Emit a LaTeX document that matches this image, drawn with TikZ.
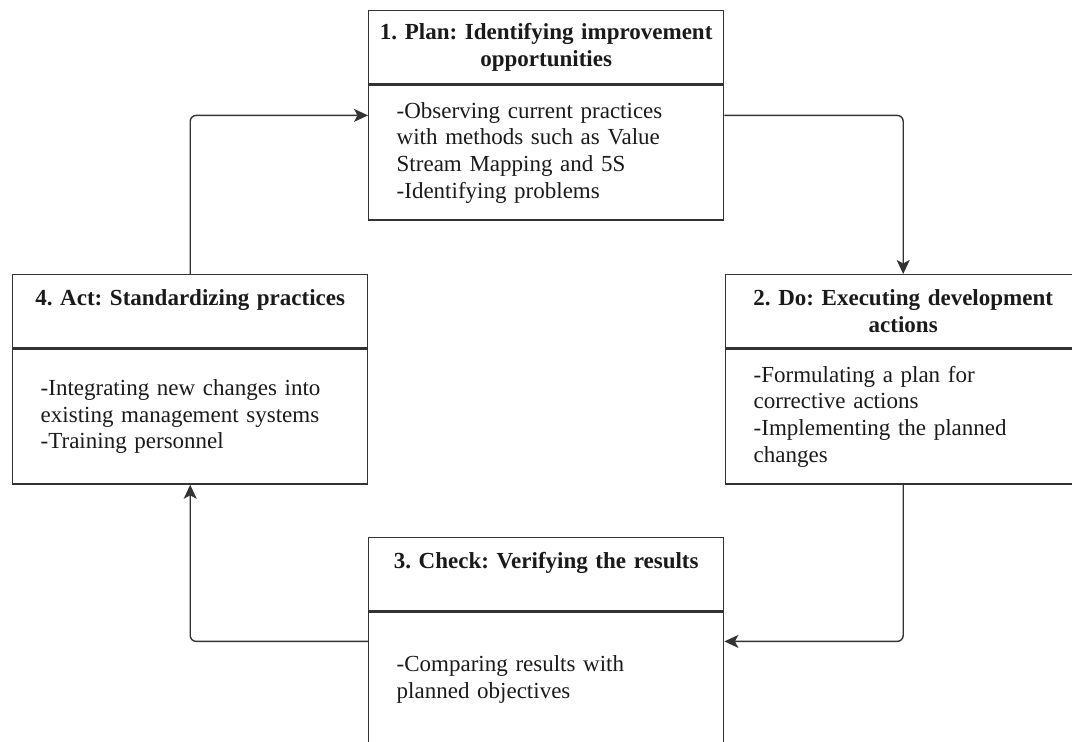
\documentclass[tikz,border=0pt]{standalone}
\usepackage{fontspec}
\setmainfont{Liberation Serif}
\usetikzlibrary{arrows.meta,calc}
\frenchspacing
\hyphenpenalty=10000
\definecolor{ink}{HTML}{333333}
\definecolor{txt}{HTML}{1A1A1A}
\tikzset{
  hdr/.style={draw=ink, line width=1.4pt, rectangle, minimum width=355pt,
    minimum height=73pt, text width=347pt, inner xsep=4pt, inner ysep=0pt,
    align=center, text=txt, font=\fontsize{23}{26.7}\selectfont\bfseries},
  bdy/.style={draw=ink, line width=1.4pt, rectangle, minimum width=355pt,
    minimum height=135pt, text width=299pt, inner xsep=28pt, inner ysep=0pt,
    align=left, text=txt, font=\fontsize{23}{26.7}\selectfont},
  flow/.style={draw=ink, line width=1.4pt, rounded corners=6pt,
    -{Stealth[length=14pt,width=13pt,inset=3.5pt]}},
}
\begin{document}
\begin{tikzpicture}[x=1pt,y=-1pt]
\useasboundingbox (0,0) rectangle (1072,742);

% 1. Plan
\node[hdr, anchor=north west] (planH) at (368,10)
  {1. Plan: Identifying improvement\\opportunities};
\node[bdy, anchor=north] (planB) at (planH.south)
  {-Observing current practices\\with methods such as Value\\Stream Mapping and 5S\\-Identifying problems};

% 2. Do
\node[hdr, anchor=north west] (doH) at (725,274)
  {2. Do: Executing development\\actions};
\node[bdy, anchor=north] (doB) at (doH.south)
  {-Formulating a plan for\\corrective actions\\-Implementing the planned\\changes};

% 3. Check
\node[hdr, anchor=north west] (checkH) at (368,537)
  {3. Check: Verifying the results\\\mbox{}};
\node[bdy, anchor=north] (checkB) at (checkH.south)
  {-Comparing results with\\planned objectives};

% 4. Act
\node[hdr, anchor=north west] (actH) at (12,274)
  {4. Act: Standardizing practices\\\mbox{}};
\node[bdy, anchor=north] (actB) at (actH.south)
  {-Integrating new changes into\\existing management systems\\-Training personnel};

% cycle connectors
\draw[flow] ($(planB.north east)+(0,31)$) -| (doH.north);
\draw[flow] (doB.south) |- ($(checkB.north east)+(0,30)$);
\draw[flow] ($(checkB.north west)+(0,30)$) -| (actB.south);
\draw[flow] (actH.north) |- ($(planB.north west)+(0,31)$);
\end{tikzpicture}
\end{document}
